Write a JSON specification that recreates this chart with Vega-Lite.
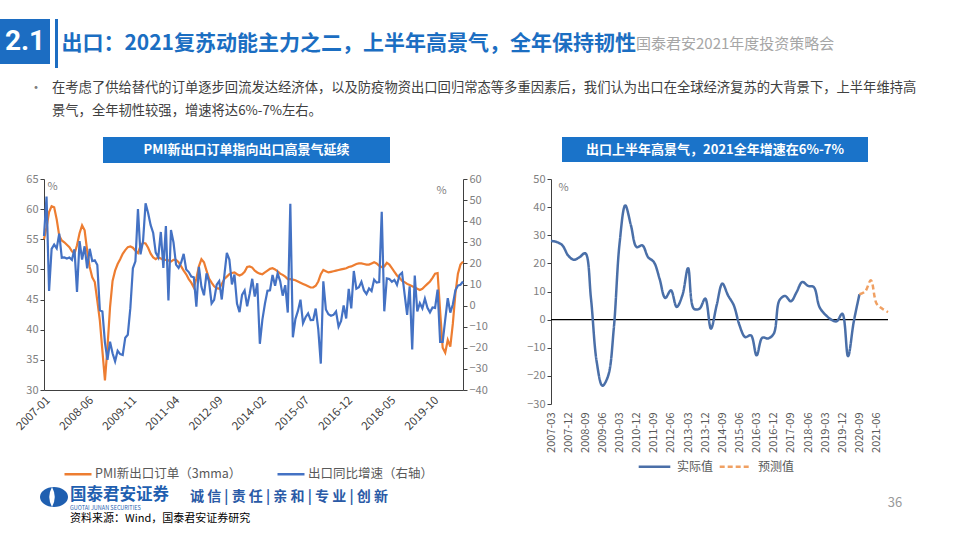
{
  "$schema": "https://vega.github.io/schema/vega-lite/v6.json",
  "background": "#ffffff",
  "padding": {"top": 19, "left": 0, "right": 0, "bottom": 0},
  "bounds": "full",
  "align": "each",
  "spacing": 0,
  "resolve": {"scale": {"color": "independent", "strokeDash": "independent"}, "legend": {"color": "independent", "strokeDash": "independent"}},
  "config": {
    "view": {"stroke": null},
    "font": "Noto Sans CJK SC",
    "axis": {"labelColor": "#808080", "labelFontSize": 11, "domainColor": "#404040", "tickColor": "#404040", "grid": false, "titleFontWeight": "normal", "titleColor": "#808080", "titleFontSize": 11}
  },
  "datasets": {
    "left": [
      {"d":"2007-01","p":55,"e":33},{"d":"2007-02","p":57,"e":51.7},{"d":"2007-03","p":59.5,"e":6.9},{"d":"2007-04","p":60.5,"e":26.9},{"d":"2007-05","p":60.3,"e":28.9},{"d":"2007-06","p":58.3,"e":27.1},{"d":"2007-07","p":55.6,"e":34.1},{"d":"2007-08","p":54.8,"e":22.7},{"d":"2007-09","p":54.5,"e":22.8},{"d":"2007-10","p":54.1,"e":22.3},{"d":"2007-11","p":53.7,"e":22.8},{"d":"2007-12","p":53,"e":21.7},
      {"d":"2008-01","p":52.6,"e":26.7},{"d":"2008-02","p":54,"e":6.5},{"d":"2008-03","p":56,"e":30.6},{"d":"2008-04","p":57.3,"e":21.8},{"d":"2008-05","p":56.5,"e":28.1},{"d":"2008-06","p":53.1,"e":17.6},{"d":"2008-07","p":50.4,"e":26.9},{"d":"2008-08","p":48.7,"e":21.1},{"d":"2008-09","p":47.9,"e":21.5},{"d":"2008-10","p":44.8,"e":19.2},{"d":"2008-11","p":41.5,"e":-2.2},{"d":"2008-12","p":36.5,"e":-2.8},
      {"d":"2009-01","p":31.6,"e":-17.5},{"d":"2009-02","p":37.1,"e":-25.7},{"d":"2009-03","p":43.7,"e":-17.1},{"d":"2009-04","p":48.1,"e":-22.6},{"d":"2009-05","p":49.8,"e":-26.4},{"d":"2009-06","p":50.9,"e":-21.4},{"d":"2009-07","p":51.7,"e":-23},{"d":"2009-08","p":52.6,"e":-23.4},{"d":"2009-09","p":53.2,"e":-15.2},{"d":"2009-10","p":53.7,"e":-13.8},{"d":"2009-11","p":53.8,"e":-1.2},{"d":"2009-12","p":53.6,"e":17.7},
      {"d":"2010-01","p":53.1,"e":21},{"d":"2010-02","p":52.7,"e":45.7},{"d":"2010-03","p":53.9,"e":24.3},{"d":"2010-04","p":54.4,"e":30.5},{"d":"2010-05","p":54.3,"e":48.5},{"d":"2010-06","p":53.6,"e":43.9},{"d":"2010-07","p":52.6,"e":38.1},{"d":"2010-08","p":52,"e":34.4},{"d":"2010-09","p":51.7,"e":25.1},{"d":"2010-10","p":52,"e":22.9},{"d":"2010-11","p":51.8,"e":34.9},{"d":"2010-12","p":51.6,"e":17.9},
      {"d":"2011-01","p":51.6,"e":37.7},{"d":"2011-02","p":51.5,"e":2.4},{"d":"2011-03","p":51.3,"e":35.8},{"d":"2011-04","p":51.6,"e":29.9},{"d":"2011-05","p":51.6,"e":19.4},{"d":"2011-06","p":51.2,"e":17.9},{"d":"2011-07","p":50.5,"e":20.4},{"d":"2011-08","p":49.8,"e":24.5},{"d":"2011-09","p":49.2,"e":17.1},{"d":"2011-10","p":48.4,"e":15.9},{"d":"2011-11","p":47.8,"e":13.8},{"d":"2011-12","p":47,"e":13.4},
      {"d":"2012-01","p":48.5,"e":-0.5},{"d":"2012-02","p":50.5,"e":18.4},{"d":"2012-03","p":51.7,"e":8.9},{"d":"2012-04","p":51.2,"e":4.9},{"d":"2012-05","p":49.8,"e":15.3},{"d":"2012-06","p":48.5,"e":11.3},{"d":"2012-07","p":47.8,"e":1},{"d":"2012-08","p":47.2,"e":2.7},{"d":"2012-09","p":46.9,"e":9.9},{"d":"2012-10","p":46.8,"e":11.6},{"d":"2012-11","p":47.6,"e":2.9},{"d":"2012-12","p":48.4,"e":14.1},
      {"d":"2013-01","p":48.8,"e":25},{"d":"2013-02","p":49.2,"e":21.8},{"d":"2013-03","p":49.4,"e":10},{"d":"2013-04","p":49.5,"e":14.7},{"d":"2013-05","p":49.2,"e":1},{"d":"2013-06","p":49,"e":-3.1},{"d":"2013-07","p":49.2,"e":5.1},{"d":"2013-08","p":49.6,"e":7.2},{"d":"2013-09","p":50.4,"e":-0.3},{"d":"2013-10","p":50.5,"e":5.6},{"d":"2013-11","p":50.3,"e":12.7},{"d":"2013-12","p":49.8,"e":4.3},
      {"d":"2014-01","p":49.5,"e":10.6},{"d":"2014-02","p":49.3,"e":-18.1},{"d":"2014-03","p":49.2,"e":-6.6},{"d":"2014-04","p":49.5,"e":0.9},{"d":"2014-05","p":49.8,"e":7},{"d":"2014-06","p":50.1,"e":7.2},{"d":"2014-07","p":50.2,"e":14.5},{"d":"2014-08","p":50,"e":9.4},{"d":"2014-09","p":49.7,"e":15.3},{"d":"2014-10","p":49.3,"e":11.6},{"d":"2014-11","p":49.1,"e":4.7},{"d":"2014-12","p":48.8,"e":9.7},
      {"d":"2015-01","p":48.4,"e":-3.3},{"d":"2015-02","p":48.4,"e":48.3},{"d":"2015-03","p":48.3,"e":-15},{"d":"2015-04","p":48.2,"e":-6.4},{"d":"2015-05","p":48,"e":-2.5},{"d":"2015-06","p":47.8,"e":2.8},{"d":"2015-07","p":47.6,"e":-8.3},{"d":"2015-08","p":47.4,"e":-5.5},{"d":"2015-09","p":47.2,"e":-3.7},{"d":"2015-10","p":47,"e":-6.9},{"d":"2015-11","p":47,"e":-6.8},{"d":"2015-12","p":47.3,"e":-1.4},
      {"d":"2016-01","p":48,"e":-11.2},{"d":"2016-02","p":49.2,"e":-27.5},{"d":"2016-03","p":49.9,"e":11.5},{"d":"2016-04","p":49.7,"e":-1.8},{"d":"2016-05","p":49.5,"e":-4.1},{"d":"2016-06","p":49.6,"e":-4.8},{"d":"2016-07","p":49.7,"e":-4.4},{"d":"2016-08","p":49.8,"e":-2.8},{"d":"2016-09","p":49.9,"e":-10},{"d":"2016-10","p":50,"e":-7.3},{"d":"2016-11","p":50.1,"e":0.1},{"d":"2016-12","p":50.2,"e":-6.1},
      {"d":"2017-01","p":50.4,"e":7.9},{"d":"2017-02","p":50.5,"e":-1.3},{"d":"2017-03","p":50.7,"e":16.4},{"d":"2017-04","p":50.9,"e":8},{"d":"2017-05","p":51,"e":8.7},{"d":"2017-06","p":51,"e":11.3},{"d":"2017-07","p":50.9,"e":7.2},{"d":"2017-08","p":50.8,"e":5.5},{"d":"2017-09","p":50.8,"e":8.1},{"d":"2017-10","p":51,"e":6.9},{"d":"2017-11","p":51.2,"e":12.3},{"d":"2017-12","p":51,"e":10.9},
      {"d":"2018-01","p":50.6,"e":11.1},{"d":"2018-02","p":50.4,"e":44.5},{"d":"2018-03","p":50.5,"e":-2.7},{"d":"2018-04","p":51.1,"e":12.9},{"d":"2018-05","p":50.8,"e":12.6},{"d":"2018-06","p":50.2,"e":11.3},{"d":"2018-07","p":49.6,"e":12.2},{"d":"2018-08","p":49,"e":9.8},{"d":"2018-09","p":48.6,"e":14.5},{"d":"2018-10","p":48.1,"e":15.6},{"d":"2018-11","p":47.9,"e":5.4},{"d":"2018-12","p":47.6,"e":-4.4},
      {"d":"2019-01","p":47.4,"e":9.1},{"d":"2019-02","p":47.2,"e":-20.8},{"d":"2019-03","p":47,"e":14.2},{"d":"2019-04","p":46.8,"e":-2.7},{"d":"2019-05","p":46.6,"e":1.1},{"d":"2019-06","p":46.8,"e":-1.3},{"d":"2019-07","p":47.2,"e":3.3},{"d":"2019-08","p":47.6,"e":-1},{"d":"2019-09","p":48,"e":-3.2},{"d":"2019-10","p":48.6,"e":-0.9},{"d":"2019-11","p":49.3,"e":-1.1},{"d":"2019-12","p":49.4,"e":7.6},
      {"d":"2020-01","p":43,"e":-17.2},{"d":"2020-02","p":37,"e":-17.2},{"d":"2020-03","p":36.2,"e":-6.6},{"d":"2020-04","p":38.3,"e":3.5},{"d":"2020-05","p":37.2,"e":-3.3},{"d":"2020-06","p":41,"e":0.5},{"d":"2020-07","p":46,"e":7.2},{"d":"2020-08","p":49.3,"e":9.5},{"d":"2020-09","p":50.8,"e":9.9},{"d":"2020-10","p":51.3,"e":11.4}
    ],
    "right": [
      {"q":"2007-03","s":"实际值","v":28},{"q":"2007-06","s":"实际值","v":27.6},{"q":"2007-09","s":"实际值","v":26.4},{"q":"2007-12","s":"实际值","v":22.8},
      {"q":"2008-03","s":"实际值","v":21.3},{"q":"2008-06","s":"实际值","v":22.2},{"q":"2008-09","s":"实际值","v":23.6},{"q":"2008-12","s":"实际值","v":7.5},
      {"q":"2009-03","s":"实际值","v":-15},{"q":"2009-06","s":"实际值","v":-23.5},{"q":"2009-09","s":"实际值","v":-20},{"q":"2009-12","s":"实际值","v":-3},
      {"q":"2010-03","s":"实际值","v":27},{"q":"2010-06","s":"实际值","v":40.6},{"q":"2010-09","s":"实际值","v":33.5},{"q":"2010-12","s":"实际值","v":25.8},
      {"q":"2011-03","s":"实际值","v":26.4},{"q":"2011-06","s":"实际值","v":22.2},{"q":"2011-09","s":"实际值","v":20.5},{"q":"2011-12","s":"实际值","v":14.6},
      {"q":"2012-03","s":"实际值","v":7.7},{"q":"2012-06","s":"实际值","v":10.4},{"q":"2012-09","s":"实际值","v":4.5},{"q":"2012-12","s":"实际值","v":8.6},
      {"q":"2013-03","s":"实际值","v":18.3},{"q":"2013-06","s":"实际值","v":3.9},{"q":"2013-09","s":"实际值","v":3.9},{"q":"2013-12","s":"实际值","v":7.5},
      {"q":"2014-03","s":"实际值","v":-3.2},{"q":"2014-06","s":"实际值","v":5.1},{"q":"2014-09","s":"实际值","v":12.8},{"q":"2014-12","s":"实际值","v":8.6},
      {"q":"2015-03","s":"实际值","v":5.1},{"q":"2015-06","s":"实际值","v":-2},{"q":"2015-09","s":"实际值","v":-6.2},{"q":"2015-12","s":"实际值","v":-5.6},
      {"q":"2016-03","s":"实际值","v":-12.7},{"q":"2016-06","s":"实际值","v":-6.4},{"q":"2016-09","s":"实际值","v":-6.7},{"q":"2016-12","s":"实际值","v":-5},
      {"q":"2017-03","s":"实际值","v":6.9},{"q":"2017-06","s":"实际值","v":8.4},{"q":"2017-09","s":"实际值","v":6.5},{"q":"2017-12","s":"实际值","v":9.8},
      {"q":"2018-03","s":"实际值","v":13.4},{"q":"2018-06","s":"实际值","v":12},{"q":"2018-09","s":"实际值","v":11.6},{"q":"2018-12","s":"实际值","v":4.5},
      {"q":"2019-03","s":"实际值","v":1.8},{"q":"2019-06","s":"实际值","v":0.1},{"q":"2019-09","s":"实际值","v":-0.6},{"q":"2019-12","s":"实际值","v":2.1},
      {"q":"2020-03","s":"实际值","v":-13},{"q":"2020-06","s":"实际值","v":-0.8},{"q":"2020-09","s":"实际值","v":9},
      {"q":"2020-09","s":"预测值","v":9},{"q":"2020-12","s":"预测值","v":10},{"q":"2021-03","s":"预测值","v":14},{"q":"2021-06","s":"预测值","v":5.7},{"q":"2021-09","s":"预测值","v":3.9},{"q":"2021-12","s":"预测值","v":2.7}
    ]
  },
  "vconcat": [
    {"hconcat": [
      {"width": 50, "height": 45, "view": {"fill": "#1c6dc2", "stroke": null}, "data": {"values": [{"t": "2.1"}]}, "mark": {"type": "text", "color": "#ffffff", "fontSize": 28, "fontWeight": "bold", "font": "Liberation Sans Narrow, Roboto, sans-serif"}, "encoding": {"text": {"field": "t"}}},
      {"width": 5, "height": 1, "data": {"values": [{}]}, "mark": {"type": "text", "fontSize": 0}, "encoding": {"text": {"value": ""}}},
      {"width": 3, "height": 49, "view": {"fill": "#1c6dc2", "stroke": null}, "data": {"values": [{}]}, "mark": {"type": "text", "fontSize": 0}, "encoding": {"text": {"value": ""}}},
      {"width": 577, "height": 1, "data": {"values": [{}]}, "mark": {"type": "text", "fontSize": 0}, "encoding": {"text": {"value": ""}}},
      {"width": 2, "height": 49, "data": {"values": [{"t": "出口：2021复苏动能主力之二，上半年高景气，全年保持韧性", "g": "国泰君安2021年度投资策略会"}]},
       "layer": [
         {"mark": {"type": "text", "align": "right", "fontSize": 21, "fontWeight": "bold", "color": "#1b6ec2"}, "encoding": {"text": {"field": "t"}}},
         {"mark": {"type": "text", "align": "left", "fontSize": 15, "color": "#a6a6a6"}, "encoding": {"text": {"field": "g"}}}
       ]}
    ], "bounds": "flush", "align": "each", "spacing": 0},

    {"hconcat": [
      {"width": 34, "height": 1, "data": {"values": [{}]}, "mark": {"type": "text", "fontSize": 0}, "encoding": {"text": {"value": ""}}},
      {"width": 4, "height": 40, "data": {"values": [{"t": "•"}]}, "mark": {"type": "text", "fontSize": 14, "color": "#7f7f7f"}, "encoding": {"text": {"field": "t"}}},
      {"width": 28, "height": 40, "data": {"values": [{"t": "在考虑了供给替代的订单逐步回流发达经济体，以及防疫物资出口回归常态等多重因素后，我们认为出口在全球经济复苏的大背景下，上半年维持高\n景气，全年韧性较强，增速将达6%-7%左右。"}]}, "mark": {"type": "text", "align": "left", "fontSize": 13.3, "lineHeight": 23, "lineBreak": "\n", "color": "#404040"}, "encoding": {"text": {"field": "t"}}}
    ], "bounds": "flush", "align": "each", "spacing": 0},

    {"width": 1, "height": 19, "data": {"values": [{}]}, "mark": {"type": "text", "fontSize": 0}, "encoding": {"text": {"value": ""}}},

    {"hconcat": [
      {"width": 103, "height": 1, "data": {"values": [{}]}, "mark": {"type": "text", "fontSize": 0}, "encoding": {"text": {"value": ""}}},
      {"width": 287, "height": 26, "view": {"fill": "#1a73c9", "stroke": null}, "data": {"values": [{"t": "PMI新出口订单指向出口高景气延续"}]}, "mark": {"type": "text", "color": "#ffffff", "fontSize": 13, "fontWeight": "bold"}, "encoding": {"text": {"field": "t"}}},
      {"width": 172, "height": 1, "data": {"values": [{}]}, "mark": {"type": "text", "fontSize": 0}, "encoding": {"text": {"value": ""}}},
      {"width": 306, "height": 25, "view": {"fill": "#1a73c9", "stroke": null}, "data": {"values": [{"t": "出口上半年高景气，2021全年增速在6%-7%"}]}, "mark": {"type": "text", "color": "#ffffff", "fontSize": 13, "fontWeight": "bold"}, "encoding": {"text": {"field": "t"}}}
    ], "bounds": "flush", "align": "each", "spacing": 0},

    {"width": 1, "height": 10, "data": {"values": [{}]}, "mark": {"type": "text", "fontSize": 0}, "encoding": {"text": {"value": ""}}},

    {"hconcat": [
      {"width": 44, "height": 308, "data": {"values": [{}]}, "mark": {"type": "text", "fontSize": 0}, "encoding": {"text": {"value": ""}}},
      {"width": 419, "height": 211, "data": {"name": "left"},
       "layer": [
         {"mark": {"type": "line", "strokeWidth": 2.2},
          "encoding": {
            "x": {"field": "d", "type": "ordinal", "scale": {"type": "point", "padding": 0}, "axis": {"values": ["2007-01","2008-06","2009-11","2011-04","2012-09","2014-02","2015-07","2016-12","2018-05","2019-10"], "labelAngle": -45, "ticks": false, "domain": true, "title": null, "labelPadding": 4, "labelFontSize": 11.5, "labelColor": "#404040"}},
            "y": {"field": "p", "type": "quantitative", "scale": {"domain": [30, 65], "nice": false, "zero": false}, "axis": {"values": [30,35,40,45,50,55,60,65], "title": "%", "titleAngle": 0, "titleX": 8, "titleY": 7, "titleAlign": "center", "titleBaseline": "middle", "tickSize": 4}},
            "color": {"datum": "PMI新出口订单（3mma）", "type": "nominal", "scale": {"domain": ["PMI新出口订单（3mma）", "出口同比增速（右轴）"], "range": ["#ED7D31", "#4472C4"]},
              "legend": {"orient": "none", "legendX": 19, "legendY": 280, "direction": "horizontal", "symbolType": "stroke", "symbolSize": 729, "symbolStrokeWidth": 2.5, "labelFontSize": 12.5, "labelColor": "#595959", "columnPadding": 30, "labelOffset": 2, "title": null, "padding": 0}}
          }},
         {"mark": {"type": "line", "strokeWidth": 2.2},
          "encoding": {
            "x": {"field": "d", "type": "ordinal"},
            "y": {"field": "e", "type": "quantitative", "scale": {"domain": [-40, 60], "nice": false, "zero": false}, "axis": {"orient": "right", "values": [-40,-30,-20,-10,0,10,20,30,40,50,60], "title": "%", "titleAngle": 0, "titleX": -22, "titleY": 11, "titleAlign": "center", "titleBaseline": "middle", "tickSize": 4}},
            "color": {"datum": "出口同比增速（右轴）", "type": "nominal"}
          }}
       ],
       "resolve": {"scale": {"y": "independent"}}},
      {"width": 88, "height": 1, "data": {"values": [{}]}, "mark": {"type": "text", "fontSize": 0}, "encoding": {"text": {"value": ""}}},
      {"width": 337, "height": 225, "data": {"name": "right"},
       "layer": [
         {"data": {"values": [{}]}, "mark": {"type": "rule", "color": "#000000", "strokeWidth": 1.3},
          "encoding": {"y": {"datum": 0, "type": "quantitative", "scale": {"domain": [-30, 50], "nice": false, "zero": false}, "axis": {"values": [-30,-20,-10,0,10,20,30,40,50], "title": "%", "titleAngle": 0, "titleX": 12, "titleY": 8, "titleAlign": "center", "titleBaseline": "middle", "tickSize": 4}}}},
         {"mark": {"type": "line", "strokeWidth": 2.5, "interpolate": "catmull-rom"},
          "encoding": {
            "x": {"field": "q", "type": "ordinal", "scale": {"type": "point", "padding": 0}, "axis": {"values": ["2007-03","2007-12","2008-09","2009-06","2010-03","2010-12","2011-09","2012-06","2013-03","2013-12","2014-09","2015-06","2016-03","2016-12","2017-09","2018-06","2019-03","2019-12","2020-09","2021-06"], "labelAngle": -90, "ticks": false, "domain": false, "title": null, "labelPadding": 8, "labelFontSize": 11, "labelColor": "#595959"}},
            "y": {"field": "v", "type": "quantitative", "scale": {"domain": [-30, 50], "nice": false, "zero": false}, "axis": {"values": [-30,-20,-10,0,10,20,30,40,50], "title": "%", "titleAngle": 0, "titleX": 12, "titleY": 8, "titleAlign": "center", "titleBaseline": "middle", "tickSize": 4}},
            "color": {"field": "s", "type": "nominal", "scale": {"domain": ["实际值", "预测值"], "range": ["#4a6fa8", "#f0a062"]},
              "legend": {"orient": "none", "legendX": 86, "legendY": 270, "direction": "horizontal", "symbolType": "stroke", "symbolSize": 1000, "symbolStrokeWidth": 2.5, "labelFontSize": 12, "labelColor": "#595959", "columnPadding": 0, "labelOffset": 5, "title": null, "padding": 0}},
            "strokeDash": {"field": "s", "type": "nominal", "scale": {"domain": ["实际值", "预测值"], "range": [[1, 0], [5, 3]]},
              "legend": {"orient": "none", "legendX": 86, "legendY": 270, "direction": "horizontal", "symbolType": "stroke", "symbolSize": 1000, "symbolStrokeWidth": 2.5, "labelFontSize": 12, "labelColor": "#595959", "columnPadding": 0, "labelOffset": 5, "title": null, "padding": 0}}
          }}
       ]}
    ], "bounds": "flush", "align": "each", "spacing": 0,
       "resolve": {"scale": {"color": "independent", "strokeDash": "independent"}, "legend": {"color": "independent", "strokeDash": "independent"}}},

    {"hconcat": [
      {"width": 40, "height": 1, "data": {"values": [{}]}, "mark": {"type": "text", "fontSize": 0}, "encoding": {"text": {"value": ""}}},
      {"width": 28, "height": 20, "data": {"values": [{}]},
       "layer": [
         {"mark": {"type": "point", "shape": "M-1.4,0A1.4,1,0,1,1,1.4,0A1.4,1,0,1,1,-1.4,0Z", "filled": true, "color": "#1f5fb0", "size": 400, "opacity": 1, "strokeWidth": 0}, "encoding": {}},
         {"mark": {"type": "point", "shape": "M-0.2,-1Q0.35,0,-0.2,1Q-0.75,0,-0.2,-1Z", "filled": true, "color": "#ffffff", "size": 400, "opacity": 1, "strokeWidth": 0}, "encoding": {}}
       ]},
      {"width": 4, "height": 16, "data": {"values": [{"a": "国泰君安证券", "b": "\nGUOTAI JUNAN SECURITIES", "c": "\n资料来源：Wind，国泰君安证券研究"}]},
       "layer": [
         {"mark": {"type": "text", "align": "left", "fontSize": 16.5, "fontWeight": "bold", "color": "#1f5fb0"}, "encoding": {"text": {"field": "a"}}},
         {"mark": {"type": "text", "align": "left", "fontSize": 5.5, "lineHeight": 13, "lineBreak": "\n", "color": "#1f5fb0"}, "encoding": {"text": {"field": "b"}}},
         {"mark": {"type": "text", "align": "left", "fontSize": 11, "lineHeight": 24, "lineBreak": "\n", "color": "#000000"}, "encoding": {"text": {"field": "c"}}}
       ]},
      {"width": 236, "height": 20, "data": {"values": [{"t": "诚 信 | 责 任 | 亲 和 | 专 业 | 创 新"}]}, "mark": {"type": "text", "align": "left", "fontSize": 14, "fontWeight": "bold", "color": "#2a5aa6"}, "encoding": {"text": {"field": "t"}}},
      {"width": 577, "height": 1, "data": {"values": [{}]}, "mark": {"type": "text", "fontSize": 0}, "encoding": {"text": {"value": ""}}},
      {"width": 20, "height": 32, "data": {"values": [{"t": "36"}]}, "mark": {"type": "text", "align": "center", "fontSize": 13, "color": "#999999"}, "encoding": {"text": {"field": "t"}}}
    ], "bounds": "flush", "align": "each", "spacing": 0}
  ]
}
